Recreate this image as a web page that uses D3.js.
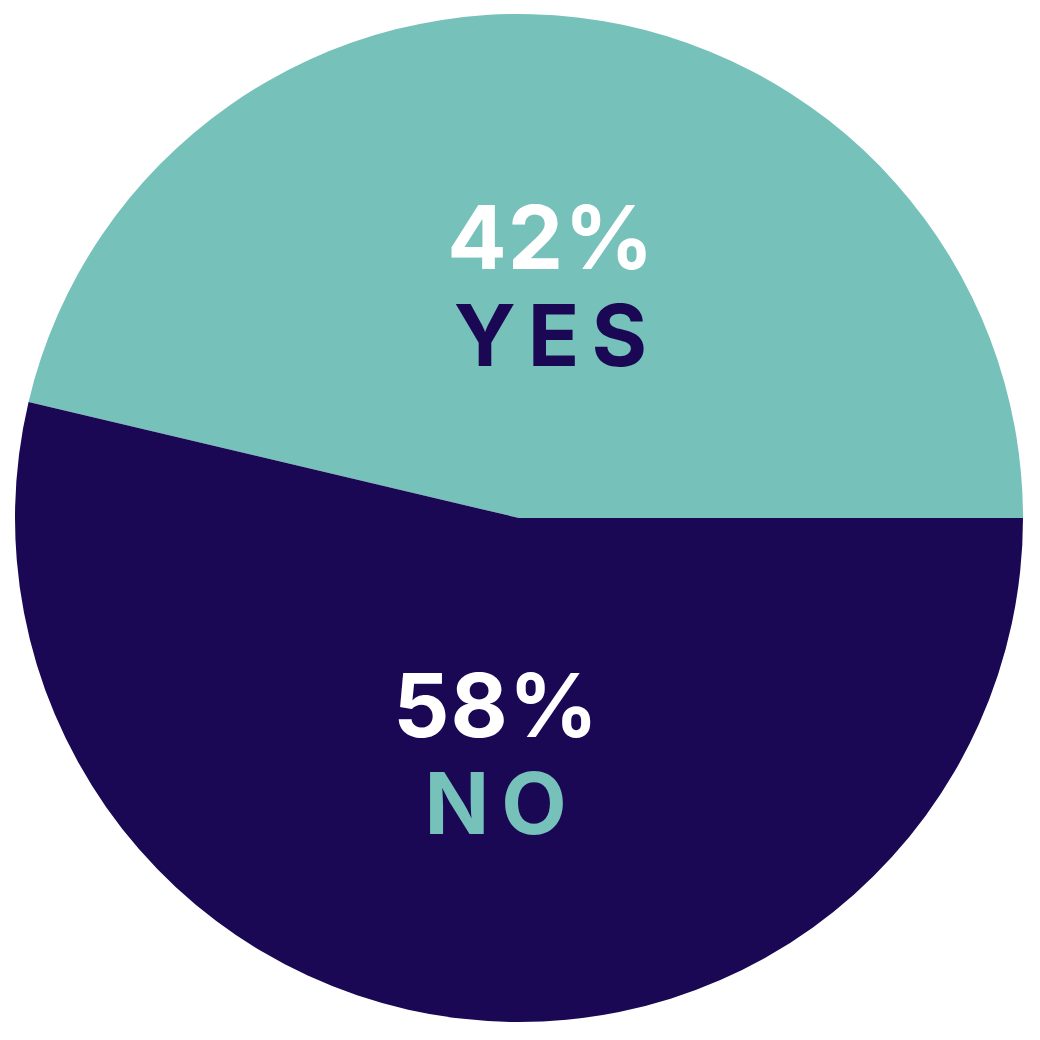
<!DOCTYPE html>
<html>
<head>
<meta charset="utf-8">
<script src="https://cdn.jsdelivr.net/npm/d3@7"></script>
<style>
  html, body { margin: 0; padding: 0; background: #ffffff; }
  svg { display: block; }
</style>
</head>
<body>
<svg id="chart" width="1040" height="1040"></svg>
<script>
// ---- data ----
const categories = ["YES", "NO"];
const percentLabels = [42, 58];          // printed percentages
const sliceShares = [46.3, 53.7];        // slice sizes as drawn in the picture
const sliceColors = ["#76C1B9", "#1B0854"];
const nameColors = ["#1B0854", "#76C1B9"];

const width = 1040, height = 1040;
const cx = 519, cy = 518, radius = 504;

const svg = d3.select("#chart");
const g = svg.append("g").attr("transform", `translate(${cx},${cy})`);

const data = categories.map((c, i) => ({
  name: c, pct: percentLabels[i], share: sliceShares[i],
  fill: sliceColors[i], nameFill: nameColors[i]
}));

const total = d3.sum(sliceShares);
const start = Math.PI / 2 - 2 * Math.PI * sliceShares[0] / total;

const pie = d3.pie()
  .sort(null)
  .value(d => d.share)
  .startAngle(start)
  .endAngle(start + 2 * Math.PI);

const arc = d3.arc().innerRadius(0).outerRadius(radius);
const labelR = 236;
const labelArc = d3.arc().innerRadius(labelR).outerRadius(labelR);

const arcs = pie(data);

g.selectAll("path.slice")
  .data(arcs)
  .join("path")
  .attr("class", "slice")
  .attr("d", arc)
  .attr("fill", d => d.data.fill);

const labels = g.selectAll("g.label")
  .data(arcs)
  .join("g")
  .attr("class", "label")
  .attr("transform", d => {
    const [x, y] = labelArc.centroid(d);
    return `translate(${x + 4},${y})`;
  });

const fontFamily = "Inter, 'Open Sans', 'DejaVu Sans', sans-serif";
const pctSpacing = 1, nameSpacing = 12;

labels.append("text")
  .attr("text-anchor", "middle")
  .attr("x", pctSpacing / 2)
  .attr("y", -15)
  .attr("font-family", fontFamily)
  .attr("font-weight", 700)
  .attr("font-size", 88)
  .attr("letter-spacing", pctSpacing)
  .attr("fill", "#ffffff")
  .text(d => d.data.pct + "%");

labels.append("text")
  .attr("text-anchor", "middle")
  .attr("x", nameSpacing / 2)
  .attr("y", 82)
  .attr("font-family", fontFamily)
  .attr("font-weight", 700)
  .attr("font-size", 85)
  .attr("letter-spacing", nameSpacing)
  .attr("fill", d => d.data.nameFill)
  .text(d => d.data.name);
</script>
</body>
</html>
